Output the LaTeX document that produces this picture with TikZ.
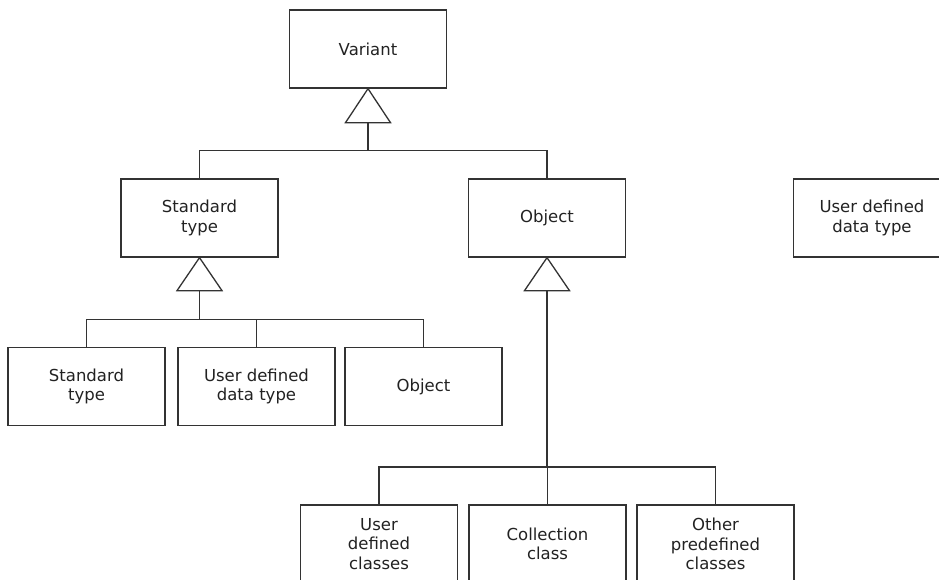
\documentclass[tikz,border=0pt]{standalone}
\usepackage{fontspec}
\setmainfont{DejaVu Sans}
\usetikzlibrary{calc}
\definecolor{ln}{HTML}{333333}
\definecolor{tx}{HTML}{222222}
\tikzset{
  cls/.style={draw=ln, line width=1.3pt, fill=white, minimum width=157pt, minimum height=78pt,
    inner sep=0pt, align=center, text=tx, font=\fontsize{16.5}{19.5}\selectfont},
  conn/.style={draw=ln, line width=1.3pt},
  tri/.style={draw=ln, line width=1.3pt, fill=white, line join=miter}
}
\begin{document}
\begin{tikzpicture}[x=1pt,y=-1pt]
\useasboundingbox (0,0) rectangle (939,579);
\clip (0,0) rectangle (939,579);
% boxes
\node[cls] (var) at (368,49) {Variant};
\node[cls] (st) at (199.5,218) {Standard\\type};
\node[cls] (obj) at (547,218) {Object};
\node[cls] (udr) at (872,218) {User defined\\data type};
\node[cls] (st2) at (86.5,386.5) {Standard\\type};
\node[cls] (ud2) at (256.5,386.5) {User defined\\data type};
\node[cls] (ob2) at (423.5,386.5) {Object};
\node[cls] (uc) at (379,544) {User\\defined\\classes};
\node[cls] (cc) at (547.5,544) {Collection\\class};
\node[cls] (op) at (715.5,544) {Other\\predefined\\classes};
% triangles
\coordinate (vt) at ($(var.south)+(0,34)$);
\coordinate (stt) at ($(st.south)+(0,33)$);
\coordinate (obt) at ($(obj.south)+(0,33)$);
\draw[tri] (var.south) -- ($(vt)+(-22.5,0)$) -- ($(vt)+(22.5,0)$) -- cycle;
\draw[tri] (st.south) -- ($(stt)+(-22.5,0)$) -- ($(stt)+(22.5,0)$) -- cycle;
\draw[tri] (obj.south) -- ($(obt)+(-22.5,0)$) -- ($(obt)+(22.5,0)$) -- cycle;
% buses
\coordinate (b1) at ($(vt)+(0,28)$);
\coordinate (b2) at ($(stt)+(0,29)$);
\coordinate (b3) at (obt |- 0,467);
\draw[conn] (vt) -- (b1);
\draw[conn] (st.north) |- (b1) -| (obj.north);
\draw[conn] (stt) -- (b2);
\draw[conn] (st2.north) |- (b2) -| (ob2.north);
\draw[conn] (ud2.north) -- (ud2.north |- b2);
\draw[conn] (obt) -- (b3);
\draw[conn] (uc.north) |- (b3) -| (op.north);
\draw[conn] (cc.north) -- (cc.north |- b3);
\end{tikzpicture}
\end{document}
